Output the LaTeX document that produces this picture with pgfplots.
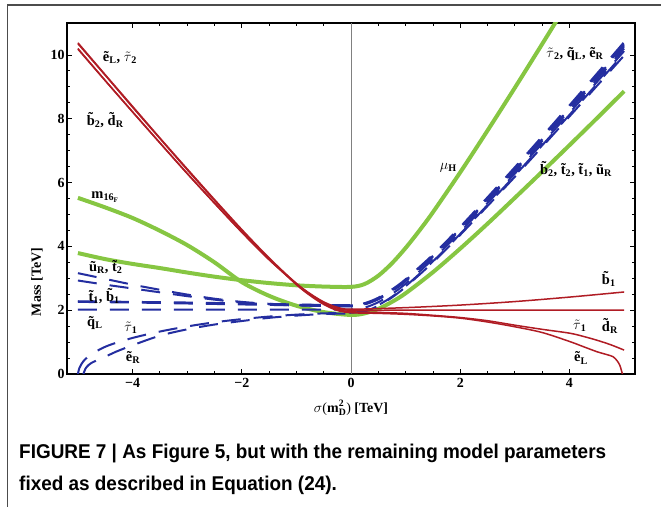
\documentclass[border=0pt]{standalone}
\usepackage{fontspec}
\setmainfont{Liberation Serif}
\newfontfamily\capfont{Liberation Sans}
\usepackage{graphicx}
\usepackage{pgfplots}
\pgfplotsset{compat=1.18}

\definecolor{sred}{RGB}{176,28,36}
\definecolor{sgreen}{RGB}{134,198,66}
\definecolor{sblue}{RGB}{36,46,160}

\newcommand{\lab}[1]{{\fontsize{14.5}{15}\selectfont\bfseries #1}}

\begin{document}
\begin{tikzpicture}
\useasboundingbox (0,0) rectangle (661bp,507bp);
% panel frame
\draw[line width=1.3bp, black!70] (7.5bp,0) -- (7.5bp,502bp) -- (661bp,502bp);

\begin{axis}[
  at={(67bp,133bp)}, anchor=south west,
  width=568bp, height=351bp, scale only axis,
  xmin=-5.2, xmax=5.2, ymin=0, ymax=11,
  xtick={-4,-2,0,2,4}, xticklabels={−4,−2,0,2,4},
  ytick={0,2,4,6,8,10}, yticklabels={0,2,4,6,8,10},
  minor tick num=3,
  tick align=inside,
  major tick length=5bp, minor tick length=3bp,
  tick style={black, line width=0.8bp},
  axis line style={line width=1.2bp},
  ticklabel style={font=\fontsize{14}{15}\selectfont\bfseries},
  xticklabel style={yshift=-1bp},
  yticklabel style={xshift=1bp},
]
% zero line
\addplot[black!50, line width=0.9bp] coordinates {(0,0) (0,11)};

% --- green: m_16F branch and mu_H branch
\addplot[sgreen, line width=4bp, smooth] coordinates {
 (-5,3.79)(-4.5,3.6)(-4,3.45)(-3.5,3.32)(-3,3.18)(-2.5,3.05)(-2,2.94)(-1.5,2.85)
 (-1,2.78)(-0.5,2.74)(0,2.73)(0.25,2.82)(0.5,3.08)(0.75,3.47)(1,3.95)(1.25,4.49)
 (1.5,5.07)(2,6.32)(2.5,7.63)(3,8.97)(3.5,10.34)(3.8,11.17)};
\addplot[sgreen, line width=4bp, smooth] coordinates {
 (-5,5.52)(-4.5,5.22)(-4,4.89)(-3.5,4.49)(-3,4.04)(-2.5,3.5)(-2,2.88)(-1.5,2.45)
 (-1,2.14)(-0.5,1.94)(0,1.85)(0.25,1.9)(0.5,2.04)(0.75,2.26)(1,2.53)(1.5,3.19)
 (2,3.93)(2.5,4.71)(3,5.52)(3.5,6.34)(4,7.17)(4.5,8.01)(5,8.86)};

% --- blue dashed: squark / slepton branches
\pgfplotsset{bl/.style={sblue, line width=2bp, smooth, dash pattern=on 19bp off 13bp}}
\addplot[bl] coordinates {
 (-5,3.16)(-4.5,2.98)(-4,2.80)(-3.5,2.64)(-3,2.49)(-2.5,2.36)(-2,2.26)(-1.5,2.2)
 (-1,2.17)(-0.5,2.16)(0,2.16)(0.25,2.22)(0.5,2.39)(0.75,2.65)(1,2.97)(1.5,3.74)
 (2,4.61)(3,6.48)(4,8.42)(5,10.40)};
\addplot[bl] coordinates {
 (-5,2.93)(-4.5,2.8)(-4,2.68)(-3.5,2.56)(-3,2.44)(-2.5,2.33)(-2,2.24)(-1.5,2.18)
 (-1,2.15)(-0.5,2.13)(0,2.13)(0.25,2.19)(0.5,2.36)(0.75,2.62)(1,2.94)(1.5,3.71)
 (2,4.57)(3,6.43)(4,8.37)(5,10.33)};
\addplot[bl] coordinates {
 (-5,2.28)(-4,2.26)(-3,2.24)(-2,2.21)(-1,2.18)(0,2.15)(0.25,2.21)(0.5,2.37)
 (0.75,2.63)(1,2.94)(1.5,3.70)(2,4.56)(3,6.40)(4,8.32)(5,10.27)};
\addplot[bl] coordinates {
 (-5,2.26)(-4,2.24)(-3,2.21)(-2,2.18)(-1,2.15)(0,2.12)(0.25,2.18)(0.5,2.34)
 (0.75,2.59)(1,2.91)(1.5,3.67)(2,4.52)(3,6.35)(4,8.26)(5,10.20)};
\addplot[bl] coordinates {
 (-5,2.02)(-4,2.02)(-3,2.02)(-2,2.02)(-1,2.02)(0,2.02)(0.25,2.08)(0.5,2.25)
 (0.75,2.51)(1,2.83)(1.5,3.60)(2,4.45)(3,6.28)(4,8.18)(5,10.12)};
\addplot[bl] coordinates {
 (-5,0)(-4.97,0.2)(-4.9,0.4)(-4.8,0.56)(-4.6,0.77)(-4.4,0.92)(-4,1.13)(-3.5,1.33)
 (-3,1.49)(-2.5,1.62)(-2,1.72)(-1.5,1.8)(-1,1.86)(-0.5,1.9)(0,1.92)(0.25,1.98)
 (0.5,2.16)(0.75,2.42)(1,2.75)(1.5,3.53)(2,4.39)(3,6.22)(4,8.12)(5,10.05)};
\addplot[bl] coordinates {
 (-4.9,0)(-4.85,0.2)(-4.75,0.35)(-4.55,0.5)(-4.3,0.7)(-4,0.9)(-3.5,1.2)(-3,1.4)
 (-2.5,1.55)(-2,1.66)(-1.5,1.76)(-1,1.83)(-0.5,1.88)(0,1.9)(0.25,1.96)(0.5,2.14)
 (0.75,2.40)(1,2.73)(1.5,3.50)(2,4.36)(3,6.18)(4,8.07)(5,9.98)};

% --- red: slepton / down-type branches
\pgfplotsset{rd/.style={sred, line width=1.5bp, smooth}}
\addplot[rd] coordinates {
 (-5,10.35)(-4.5,9.36)(-4,8.36)(-3.5,7.38)(-3,6.40)(-2.5,5.44)(-2,4.50)(-1.5,3.61)
 (-1,2.80)(-0.75,2.46)(-0.5,2.18)(-0.25,1.99)(0,1.92)(0.5,1.90)(1,1.87)(1.5,1.82)
 (2,1.75)(2.5,1.63)(3,1.48)(3.5,1.30)(4,1.02)(4.25,0.86)(4.5,0.70)(4.7,0.60)
 (4.8,0.54)(4.87,0.42)(4.92,0.28)(4.95,0.12)(4.97,0)};
\addplot[rd] coordinates {
 (-5,10.38)(-4.5,9.38)(-4,8.39)(-3.5,7.40)(-3,6.43)(-2.5,5.47)(-2,4.53)(-1.5,3.64)
 (-1,2.83)(-0.75,2.49)(-0.5,2.21)(-0.25,2.02)(0,1.95)(0.5,1.93)(1,1.90)(1.5,1.84)
 (2,1.77)(2.5,1.67)(3,1.53)(3.5,1.40)(4,1.28)(4.25,1.18)(4.5,1.06)(4.75,0.92)(5,0.75)};
\addplot[rd] coordinates {
 (-5,10.20)(-4.5,9.20)(-4,8.22)(-3.5,7.25)(-3,6.29)(-2.5,5.36)(-2,4.45)(-1.5,3.59)
 (-1,2.84)(-0.75,2.52)(-0.5,2.26)(-0.25,2.09)(0,2.03)(1,2.08)(2,2.16)(3,2.27)
 (4,2.41)(5,2.57)};
\addplot[rd] coordinates {
 (-5,10.18)(-4.5,9.19)(-4,8.21)(-3.5,7.24)(-3,6.28)(-2.5,5.35)(-2,4.44)(-1.5,3.58)
 (-1,2.82)(-0.75,2.50)(-0.5,2.24)(-0.25,2.06)(0,2.00)(1,2.00)(2,2.00)(3,2.00)
 (4,2.00)(5,2.00)};

% --- branch labels
\node at (axis cs:-4.23,9.93) {\lab{\~{e}\textsubscript{L}, $\tilde{\tau}$\textsubscript{2}}};
\node at (axis cs:-4.5,7.96) {\lab{\~{b}\textsubscript{2}, \~{d}\textsubscript{R}}};
\node at (axis cs:-4.5,5.55) {\lab{m\textsubscript{16\textsubscript{F}}}};
\node at (axis cs:-4.49,3.35) {\lab{\~{u}\textsubscript{R}, \~{t}\textsubscript{2}}};
\node at (axis cs:-4.52,2.44) {\lab{\~{t}\textsubscript{1}, \~{b}\textsubscript{1}}};
\node at (axis cs:-4.69,1.6) {\lab{\~{q}\textsubscript{L}}};
\node at (axis cs:-4.03,1.44) {\lab{$\tilde{\tau}$\textsubscript{1}}};
\node at (axis cs:-3.99,0.53) {\lab{\~{e}\textsubscript{R}}};
\node at (axis cs:1.78,6.46) {\lab{$\mu$\textsubscript{H}}};
\node at (axis cs:4.1,10.03) {\lab{$\tilde{\tau}$\textsubscript{2}, \~{q}\textsubscript{L}, \~{e}\textsubscript{R}}};
\node at (axis cs:4.12,6.42) {\lab{\~{b}\textsubscript{2}, \~{t}\textsubscript{2}, \~{t}\textsubscript{1}, \~{u}\textsubscript{R}}};
\node at (axis cs:4.72,2.98) {\lab{\~{b}\textsubscript{1}}};
\node at (axis cs:4.74,1.5) {\lab{\~{d}\textsubscript{R}}};
\node at (axis cs:4.19,1.5) {\lab{$\tilde{\tau}$\textsubscript{1}}};
\node at (axis cs:4.21,0.5) {\lab{\~{e}\textsubscript{L}}};
\end{axis}

% axis titles
\node at (351bp,99bp) {\fontsize{14}{15}\selectfont $\sigma$(\textbf{m}$^{\mathbf{2}}_{\mathbf{D}}$) \textbf{[TeV]}};
\node[rotate=90] at (37bp,225bp) {\fontsize{14}{15}\selectfont\bfseries Mass [TeV]};

% caption
\node[anchor=base west, inner sep=0] at (19bp,48bp) {\capfont\bfseries\fontsize{20}{22}\selectfont\scalebox{0.95}[1]{FIGURE 7 | As Figure 5, but with the remaining model parameters}};
\node[anchor=base west, inner sep=0] at (19bp,17bp) {\capfont\bfseries\fontsize{20}{22}\selectfont\scalebox{0.95}[1]{fixed as described in Equation (24).}};
\end{tikzpicture}
\end{document}
